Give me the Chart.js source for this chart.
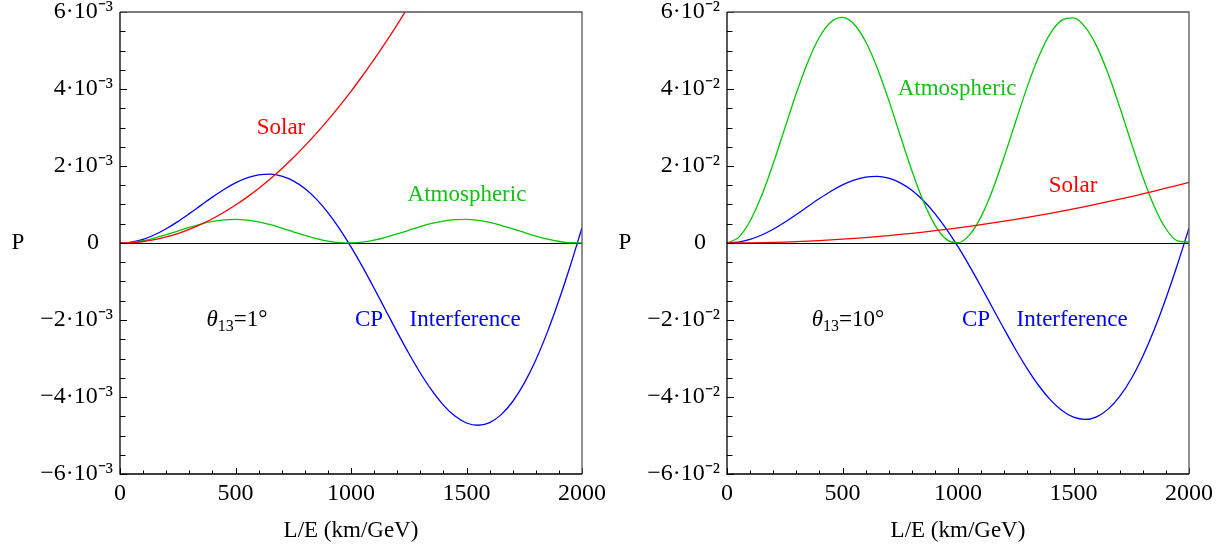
<!DOCTYPE html>
<html><head><meta charset="utf-8">
<script src="https://cdn.jsdelivr.net/npm/chart.js@4"></script>
<style>
html,body{margin:0;padding:0;background:#fff;overflow:hidden}
#wrap{position:relative;width:1229px;height:550px;background:#fff}
canvas{position:absolute;top:0}
</style></head><body>
<div id="wrap">
<canvas id="c1" width="610" height="550" style="left:0;width:610px;height:550px"></canvas>
<canvas id="c2" width="619" height="550" style="left:610px;width:619px;height:550px"></canvas>
</div>
<script>
// L/E values (km/GeV)
const lengths = [0,50,100,150,200,250,300,350,400,450,500,550,600,650,700,750,800,850,900,950,1000,1050,1100,1150,1200,1250,1300,1350,1400,1450,1500,1550,1600,1650,1700,1750,1800,1850,1900,1950,2000];

// Left panel (theta13 = 1 deg), values in units of 1e-3
const solarLeft = [0,0.010,0.039,0.089,0.158,0.246,0.355,0.483,0.630,0.798,0.985,1.192,1.418,1.665,1.931,2.216,2.522,2.847,3.191,3.556,3.940,4.344,4.767,5.211,5.674,6.156,6.659,7.181,7.722,8.284,8.865,9.466,10.086,10.727,11.387,12.066,12.766,13.485,14.223,14.982,15.760];
const atmLeft = [0,0.015,0.060,0.129,0.216,0.311,0.407,0.492,0.559,0.601,0.613,0.595,0.547,0.476,0.388,0.292,0.197,0.113,0.049,0.010,0.001,0.022,0.072,0.145,0.234,0.331,0.425,0.507,0.570,0.606,0.612,0.587,0.535,0.460,0.369,0.273,0.179,0.099,0.039,0.006,0.003];
const cpLeft = [0,0.025,0.097,0.214,0.370,0.556,0.763,0.978,1.192,1.390,1.560,1.690,1.769,1.788,1.738,1.615,1.416,1.140,0.791,0.375,-0.099,-0.620,-1.174,-1.745,-2.315,-2.865,-3.377,-3.831,-4.210,-4.496,-4.675,-4.734,-4.664,-4.458,-4.117,-3.641,-3.037,-2.315,-1.489,-0.578,0.396];

// Right panel (theta13 = 10 deg), values in units of 1e-2
const solarRight = [0,0.0010,0.0039,0.0089,0.0158,0.0246,0.0355,0.0483,0.0630,0.0798,0.0985,0.1192,0.1418,0.1665,0.1931,0.2216,0.2522,0.2847,0.3191,0.3556,0.3940,0.4344,0.4767,0.5211,0.5674,0.6156,0.6659,0.7181,0.7722,0.8284,0.8865,0.9466,1.0086,1.0727,1.1387,1.2066,1.2766,1.3485,1.4223,1.4982,1.5760];
const atmRight = [0,0.146,0.571,1.231,2.060,2.976,3.888,4.704,5.344,5.741,5.858,5.683,5.233,4.554,3.711,2.791,1.884,1.082,0.465,0.094,0.006,0.210,0.686,1.385,2.240,3.162,4.062,4.849,5.445,5.788,5.847,5.614,5.114,4.395,3.531,2.607,1.714,0.942,0.370,0.053,0.023];
const cpRight = [0,0.024,0.094,0.208,0.358,0.538,0.738,0.947,1.154,1.345,1.510,1.636,1.713,1.730,1.682,1.563,1.370,1.103,0.765,0.363,-0.096,-0.600,-1.136,-1.689,-2.240,-2.773,-3.268,-3.708,-4.075,-4.352,-4.525,-4.582,-4.514,-4.315,-3.985,-3.525,-2.939,-2.240,-1.441,-0.560,0.384];

// Tick values and labels
const xTickValues = [0,500,1000,1500,2000];
const xTickLabels = ['0','500','1000','1500','2000'];
const yTickValues = [-6,-4,-2,0,2,4,6];
const yTickLabelsLeft = ['\u22126\u00B710\u207B\u00B3','\u22124\u00B710\u207B\u00B3','\u22122\u00B710\u207B\u00B3','0','2\u00B710\u207B\u00B3','4\u00B710\u207B\u00B3','6\u00B710\u207B\u00B3'];
const yTickLabelsRight = ['\u22126\u00B710\u207B\u00B2','\u22124\u00B710\u207B\u00B2','\u22122\u00B710\u207B\u00B2','0','2\u00B710\u207B\u00B2','4\u00B710\u207B\u00B2','6\u00B710\u207B\u00B2'];
const xMinorStep = 100, yMinorStep = 0.5, xMajorEvery = 500, yMajorEvery = 2;

const FONT = '"Liberation Serif", "Times New Roman", serif';
const FS = 23;
const TFS = 24;
const RED = '#ff0000', GREEN = '#00c800', BLUE = '#0000ff';

const notesLeft = [
  {parts:[{t:'Solar'}], x:697, y:3.0, color:RED},
  {parts:[{t:'Atmospheric'}], x:1502, y:1.25, color:'#14c014'},
  {parts:[{t:'\u03B8',italic:true},{t:'13',sub:true},{t:'=1\u00B0'}], x:506, y:-2.0, color:'#000'},
  {parts:[{t:'CP'}], x:1078, y:-2.0, color:BLUE},
  {parts:[{t:'Interference'}], x:1494, y:-2.0, color:BLUE}
];
const notesRight = [
  {parts:[{t:'Atmospheric'}], x:996, y:4.0, color:'#14c014'},
  {parts:[{t:'Solar'}], x:1498, y:1.48, color:RED},
  {parts:[{t:'\u03B8',italic:true},{t:'13',sub:true},{t:'=10\u00B0'}], x:524, y:-2.0, color:'#000'},
  {parts:[{t:'CP'}], x:1078, y:-2.0, color:BLUE},
  {parts:[{t:'Interference'}], x:1494, y:-2.0, color:BLUE}
];

// padding for "0" so it aligns with mantissas (superscript hangs out)
const mctx = document.createElement('canvas').getContext('2d');
function zeroLabel(sup){
  mctx.font = TFS + 'px ' + FONT;
  const target = mctx.measureText(sup).width;
  const spaces = ['\u2002',' ','\u2009','\u200A'];
  let s = '', w = 0;
  for (const sp of spaces){
    const sw = mctx.measureText(sp).width;
    if (sw <= 0) continue;
    while (w + sw <= target + 0.5){ s += sp; w += sw; }
  }
  return '0' + s;
}

function drawRich(ctx, parts, cx, cy, color){
  const items = parts.map(p=>{
    const size = p.sub ? Math.round(FS*0.68) : FS;
    const font = (p.italic ? 'italic ' : '') + size + 'px ' + FONT;
    ctx.font = font;
    return {p, font, w: ctx.measureText(p.t).width};
  });
  const total = items.reduce((a,b)=>a+b.w,0);
  let x = cx - total/2;
  ctx.fillStyle = color; ctx.textAlign = 'left'; ctx.textBaseline = 'middle';
  items.forEach(it=>{
    ctx.font = it.font;
    ctx.fillText(it.p.t, x, cy + (it.p.sub ? FS*0.3 : 0));
    x += it.w;
  });
}

function decorPlugin(notes){
  return {
    id:'decor',
    afterDraw(chart){
      const {ctx, chartArea:a, scales:{x, y}} = chart;
      ctx.save();
      // inward ticks
      ctx.strokeStyle = '#000'; ctx.lineWidth = 1;
      ctx.beginPath();
      for (let v = x.min; v <= x.max + 1e-9; v += xMinorStep){
        const px = Math.round(x.getPixelForValue(v)) + 0.5;
        const len = (Math.abs(v % xMajorEvery) < 1e-9) ? 6 : 3.5;
        ctx.moveTo(px, a.bottom); ctx.lineTo(px, a.bottom - len);
      }
      for (let v = y.min; v <= y.max + 1e-9; v += yMinorStep){
        const py = Math.round(y.getPixelForValue(v)) + 0.5;
        const len = (Math.abs(Math.round(v*1000) % (yMajorEvery*1000)) < 1) ? 7 : 5.5;
        ctx.moveTo(a.left, py); ctx.lineTo(a.left + len, py);
      }
      ctx.stroke();
      // frame
      ctx.lineWidth = 1.3;
      ctx.strokeStyle = '#555';
      ctx.beginPath();
      ctx.moveTo(a.left, a.top); ctx.lineTo(a.right, a.top); ctx.lineTo(a.right, a.bottom);
      ctx.stroke();
      ctx.strokeStyle = '#000';
      ctx.beginPath();
      ctx.moveTo(a.left, a.top); ctx.lineTo(a.left, a.bottom); ctx.lineTo(a.right, a.bottom);
      ctx.stroke();
      // axis label P
      ctx.fillStyle = '#000'; ctx.font = FS + 'px ' + FONT;
      ctx.textAlign = 'center'; ctx.textBaseline = 'middle';
      ctx.fillText('P', a.left - 102, y.getPixelForValue(0));
      // notes
      notes.forEach(n=>drawRich(ctx, n.parts, x.getPixelForValue(n.x), y.getPixelForValue(n.y), n.color));
      ctx.restore();
    }
  };
}

function series(vals){ return lengths.map((L,i)=>({x:L, y:vals[i]})); }
function ds(vals, color){
  return {data: series(vals), borderColor: color, borderWidth: 1.3, pointRadius: 0, fill: false, cubicInterpolationMode: 'monotone'};
}

function makeChart(id, solar, atm, cp, yLabels, yWidth, padRight, notes){
  const zl = zeroLabel(yLabels[6].slice(yLabels[6].indexOf('\u207B')));
  return new Chart(document.getElementById(id), {
    type: 'line',
    data: {datasets: [ds(solar, RED), ds(atm, GREEN), ds(cp, BLUE)]},
    options: {
      responsive: false, animation: false, devicePixelRatio: 1,
      layout: {padding: {left: 0, right: padRight, top: 12, bottom: 0}},
      plugins: {legend: {display: false}, tooltip: {enabled: false}},
      scales: {
        x: {
          type: 'linear', min: 0, max: 2000,
          afterBuildTicks: s => { s.ticks = xTickValues.map(v => ({value: v})); },
          afterFit: s => { s.height = 76; s.paddingLeft = 0; s.paddingRight = 0; },
          ticks: {callback: v => xTickLabels[xTickValues.indexOf(v)], font: {family: FONT, size: TFS}, color: '#000', padding: 5, maxRotation: 0, autoSkip: false},
          grid: {display: true, drawOnChartArea: false, drawTicks: false},
          border: {display: false},
          title: {display: true, text: 'L/E (km/GeV)', font: {family: FONT, size: FS}, color: '#000', padding: {top: 0, bottom: 5}}
        },
        y: {
          type: 'linear', min: -6, max: 6,
          afterBuildTicks: s => { s.ticks = yTickValues.map(v => ({value: v})); },
          afterFit: s => { s.width = yWidth; s.paddingTop = 0; s.paddingBottom = 0; },
          ticks: {callback: v => (v === 0 ? zl : yLabels[yTickValues.indexOf(v)]), font: {family: FONT, size: TFS}, color: '#000', padding: 7, autoSkip: false},
          grid: {drawTicks: false, color: c => (c.tick && c.tick.value === 0) ? '#000' : 'rgba(0,0,0,0)', lineWidth: 1},
          border: {display: false}
        }
      }
    },
    plugins: [decorPlugin(notes)]
  });
}

makeChart('c1', solarLeft, atmLeft, cpLeft, yTickLabelsLeft, 120, 28, notesLeft);
makeChart('c2', solarRight, atmRight, cpRight, yTickLabelsRight, 117, 40, notesRight);
</script>
</body></html>
